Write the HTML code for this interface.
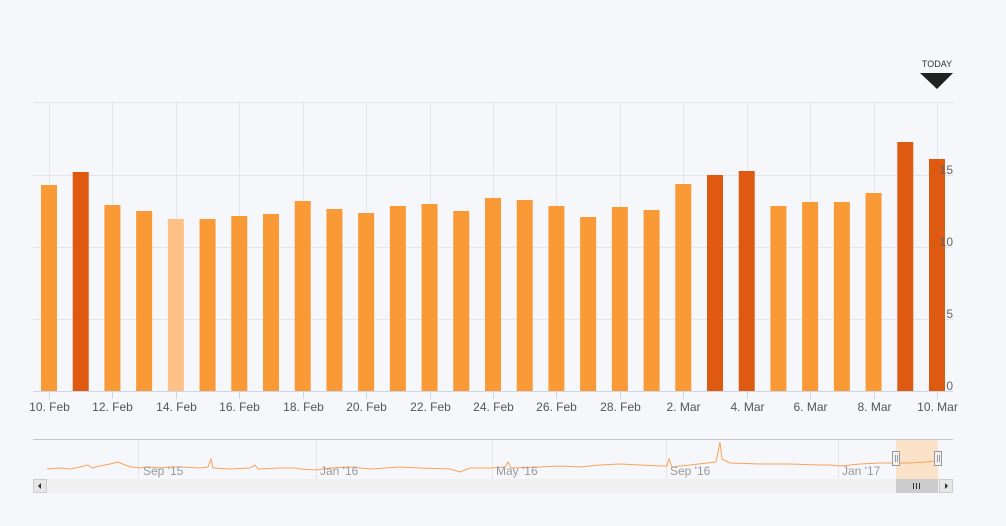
<!DOCTYPE html>
<html><head><style>
body{margin:0;background:#f6f7fb;}
svg{display:block;font-family:"Liberation Sans",sans-serif;}
</style></head><body>
<svg width="1006" height="526" xmlns="http://www.w3.org/2000/svg">
<rect width="1006" height="526" fill="#f6f7fb"/>
<g stroke="#e4e6ea" stroke-width="1">
<line x1="33" y1="102.5" x2="953" y2="102.5"/>
<line x1="33" y1="175.5" x2="953" y2="175.5"/>
<line x1="33" y1="247.5" x2="953" y2="247.5"/>
<line x1="33" y1="319.5" x2="953" y2="319.5"/>
</g>
<g id="vg" stroke="#e4e6ea"></g>
<g id="bars"></g>
<line x1="33" y1="391.5" x2="953" y2="391.5" stroke="#ccd6eb"/>
<g id="ticks" stroke="#ccd6eb"></g>
<g id="xl" font-size="12" fill="#555" text-anchor="middle"></g>
<g font-size="12" fill="#666" text-anchor="end">
<text x="953" y="174">15</text><text x="953" y="246">10</text><text x="953" y="318">5</text><text x="953" y="390">0</text>
</g>
<text x="937" y="67" font-size="9" fill="#333" text-anchor="middle">TODAY</text>
<polygon points="920,73 953,73 937,89" fill="#222"/>
<!-- navigator -->
<line x1="33" y1="439.5" x2="953" y2="439.5" stroke="#c8c8cc"/>
<g stroke="#e4e6ea"><line x1="138.5" y1="440" x2="138.5" y2="479"/><line x1="316.5" y1="440" x2="316.5" y2="479"/><line x1="492.5" y1="440" x2="492.5" y2="479"/><line x1="666.5" y1="440" x2="666.5" y2="479"/><line x1="838.5" y1="440" x2="838.5" y2="479"/></g>
<rect x="896" y="440" width="42" height="39" fill="#fbe3c9"/>
<polyline fill="none" stroke="#f9a35a" stroke-width="1" points="47,469 60,468 70,469 80,467 88,465 92,468 100,466 110,464 118,462 125,465 132,467 140,468 150,467 160,468 170,467 180,467 200,468 208,467 211,459 213,468 230,469 250,468 255,465 258,469 280,468 296,468 300,469 316,470 330,468 350,467 370,469 400,467 420,468 450,469 460,472 470,468 490,468 505,467 508,462 511,468 540,467 560,466 580,467 600,465 620,464 640,465 660,466 667,466 669,459 672,467 690,465 716,462 720,442 722,459 730,463 760,464 790,464 820,465 830,465 840,466 860,464 880,463 896,463 910,463 925,462 937,461"/>
<g font-size="12" fill="#999"><text x="143" y="475">Sep '15</text><text x="320" y="475">Jan '16</text><text x="496" y="475">May '16</text><text x="670" y="475">Sep '16</text><text x="842" y="475">Jan '17</text></g>
<g fill="#f2f2f2" stroke="#999"><rect x="892.5" y="451.5" width="7" height="14"/><rect x="934.5" y="451.5" width="7" height="14"/></g>
<g stroke="#999"><line x1="895.5" y1="455" x2="895.5" y2="462"/><line x1="897.5" y1="455" x2="897.5" y2="462"/><line x1="937.5" y1="455" x2="937.5" y2="462"/><line x1="939.5" y1="455" x2="939.5" y2="462"/></g>
<rect x="33" y="479" width="920" height="14" fill="#f0f0f0"/>
<rect x="896" y="479" width="42" height="14" fill="#cccccc"/>
<g stroke="#333"><line x1="913.5" y1="483" x2="913.5" y2="489"/><line x1="916.5" y1="483" x2="916.5" y2="489"/><line x1="919.5" y1="483" x2="919.5" y2="489"/></g>
<rect x="33.5" y="479.5" width="13" height="13" fill="#e6e6e6" stroke="#ccc"/>
<polygon points="41,483 41,489 38,486" fill="#333"/>
<rect x="939.5" y="479.5" width="13" height="13" fill="#e6e6e6" stroke="#ccc"/>
<polygon points="945,483 945,489 948,486" fill="#333"/>
</svg>
<script>
var tops=[185,172,205,211,219,219,216,214,201,209,213,206,204,211,198,200,206,217,207,210,184,175,171,206,202,202,193,142,159];
var dark=[1,21,22,27,28];
var labs=["10. Feb","12. Feb","14. Feb","16. Feb","18. Feb","20. Feb","22. Feb","24. Feb","26. Feb","28. Feb","2. Mar","4. Mar","6. Mar","8. Mar","10. Mar"];
var ns="http://www.w3.org/2000/svg",b=document.getElementById("bars"),vg=document.getElementById("vg"),tk=document.getElementById("ticks"),xl=document.getElementById("xl");
function el(p,t,a){var e=document.createElementNS(ns,t);for(var k in a)e.setAttribute(k,a[k]);p.appendChild(e);return e;}
var step=(937-49)/28;
tops.forEach(function(t,i){var c=49+i*step;var col=dark.indexOf(i)>=0?"#dd5a10":(i==4?"#fdc187":"#f99a36");
el(b,"rect",{x:c-8,y:t,width:16,height:391-t,fill:col});});
labs.forEach(function(l,j){var c=Math.round(49+2*j*step)+0.5;
el(vg,"line",{x1:c,y1:102,x2:c,y2:391});el(tk,"line",{x1:c,y1:391,x2:c,y2:399});
var tx=el(xl,"text",{x:c,y:411});tx.textContent=l;});
</script>
</body></html>
